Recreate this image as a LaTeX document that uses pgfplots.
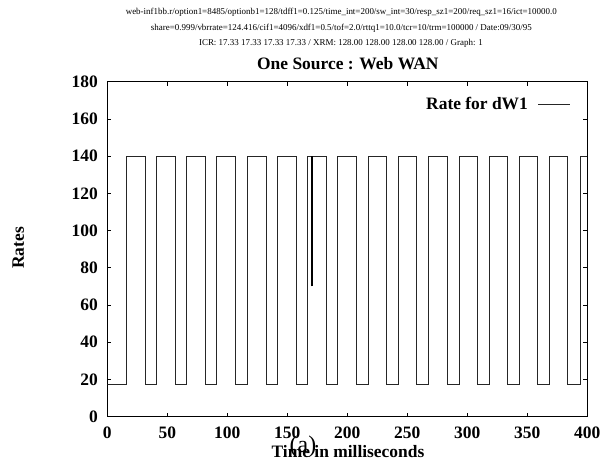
\documentclass[border=0pt]{standalone}
\usepackage{fontspec}
\setmainfont{Liberation Serif}
\usepackage{pgfplots}
\pgfplotsset{compat=1.18}

\newcommand{\bigbf}{\fontsize{17.5}{19}\selectfont\bfseries}

\begin{document}
\begin{tikzpicture}
\path[use as bounding box] (0,0) rectangle (606bp,469bp);

% header lines and title
\node[font=\fontsize{9}{10}\selectfont] at (341.3bp,456.7bp)
  {web-inf1bb.r/option1=8485/optionb1=128/tdff1=0.125/time\_int=200/sw\_int=30/resp\_sz1=200/req\_sz1=16/ict=10000.0};
\node[font=\fontsize{9}{10}\selectfont] at (341.3bp,441bp)
  {share=0.999/vbrrate=124.416/cif1=4096/xdf1=0.5/tof=2.0/rttq1=10.0/tcr=10/trm=100000 / Date:09/30/95};
\node[font=\fontsize{9}{10}\selectfont] at (341bp,426bp)
  {ICR: 17.33 17.33 17.33 17.33 / XRM: 128.00 128.00 128.00 128.00 / Graph: 1};
\node[font=\bigbf] at (347.8bp,405bp) {One Source : Web WAN};

\begin{axis}[
    at={(107.3bp,52.3bp)}, anchor=south west,
    scale only axis,
    width=480bp, height=335bp,
    xmin=0, xmax=400, ymin=0, ymax=180,
    xtick={0,50,...,400}, ytick={0,20,...,180},
    tick align=inside,
    major tick length=4bp,
    axis line style={line width=0.9bp},
    every tick/.style={black, line width=0.7bp},
    /pgf/number format/assume math mode=true,
    ticklabel style={font=\bigbf},
    xticklabel style={yshift=-7bp},
    yticklabel style={xshift=-6bp},
    legend plot pos=right,
    legend style={draw=none, fill=none, at={(0.966,0.933)}, anchor=east,
        inner sep=0pt, font=\bigbf,
        /tikz/every odd column/.append style={column sep=8bp}},
    legend image code/.code={\draw[#1] (0bp,0bp) -- (32bp,0bp);},
]
\addplot[const plot mark left, black!85, line width=0.9bp] coordinates {
    (0,17.33) (15.6,140) (31.4,17.33)
    (40.8,140) (57.0,17.33)
    (66.0,140) (82.0,17.33)
    (91.3,140) (107.2,17.33)
    (116.5,140) (132.6,17.33)
    (141.7,140) (157.7,17.33)
    (166.9,140) (182.8,17.33)
    (192.1,140) (207.8,17.33)
    (217.5,140) (232.9,17.33)
    (242.5,140) (257.9,17.33)
    (267.5,140) (283.3,17.33)
    (293.1,140) (308.4,17.33)
    (318.1,140) (333.7,17.33)
    (343.1,140) (358.7,17.33)
    (368.1,140) (383.8,17.33)
    (393.9,140) (400,140)
};
\addlegendentry{Rate for dW1}
\addplot[black, line width=1.6bp, forget plot] coordinates {(170.8,70) (170.8,140)};
\end{axis}

% axis labels and caption
\node[font=\bigbf, rotate=90] at (18.3bp,221bp) {Rates};
\node[font=\bigbf] at (348bp,17.3bp) {Time in milliseconds};
\node[font=\fontsize{24}{26}\selectfont] at (303bp,22bp) {(a)};
\end{tikzpicture}
\end{document}
